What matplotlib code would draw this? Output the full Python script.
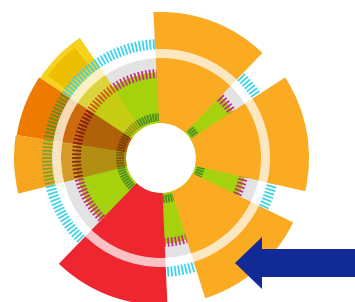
import numpy as np
import matplotlib
matplotlib.use('Agg')
import matplotlib.pyplot as plt
from matplotlib.patches import FancyArrow

# ─── Data (angles in degrees, radii in pixels) ────────────────────────────────
# solid wedges on the right / bottom
SOLID_START = [46, -13, -72.5, 226]
SOLID_END = [93, 33, -26, 272.5]
SOLID_R = [146, 148, 147, 147]
SOLID_COLOR = ['#FBAB22', '#FBAB22', '#FBAB22', '#EE2630']

# layered sectors on the left
LEFT_START = [124, 146.5, 171]
LEFT_END = [146.5, 171, 194]
LEFT_R = [145, 146, 147]
LEFT_OUTER = ['#F6D21E', '#EF7A00', '#F7A51F']
LEFT_BAND = ['#DDD33A', '#CC6C0C', '#D49B28']
LEFT_INNER = ['#C6CC14', '#B0620A', '#B28F12']

# darker patch inside the yellow sector
PATCH_START, PATCH_END = 128, 144
PATCH_R0, PATCH_R1 = 116, 140

# tick rings: (r0, r1, step in degrees)
CYAN_RING = (108, 119, 1.8)
MAGENTA_RING = (80, 89, 2.5)
GREEN_RING = (37, 45, 3.6)
CYAN_ON = ['#3FD3EA', '#5E8E22', '#7CA22E']
MAGENTA_ON = ['#D2561E', '#8C1A0A', '#8C2A10']
GREEN_ON = ['#8E9A10', '#7A3E06', '#7A5E08']

HOLE_R = 35
GREEN_R = 86
GREY_R = 100
RING_R = (100, 109)

W, H = 355, 302
CX, CY = 161, 158
RMAX = 150


def sector(ax, a0, a1, r0, r1, color, z, alpha=1.0):
    mid = np.deg2rad((a0 + a1) / 2)
    ax.bar(mid, r1 - r0, width=np.deg2rad(a1 - a0), bottom=r0,
           color=color, edgecolor='none', linewidth=0, zorder=z, alpha=alpha)


def tick_ring(ax, ring, base_color, on_colors, z):
    r0, r1, step = ring
    angles = np.arange(0, 360, step)
    cols = []
    for a in angles:
        c = base_color
        for s, e, oc in zip(LEFT_START, LEFT_END, on_colors):
            if s <= a < e:
                c = oc
        cols.append(c)
    ax.vlines(np.deg2rad(angles), r0, r1, colors=cols, linewidth=1.3, zorder=z)


fig = plt.figure(figsize=(W / 100, H / 100), dpi=100)
ax = fig.add_axes([(CX - RMAX) / W, (H - CY - RMAX) / H, 2 * RMAX / W, 2 * RMAX / H],
                  projection='polar')
ax.set_ylim(0, RMAX)

# base rings
sector(ax, 0, 360, HOLE_R, GREEN_R, '#A5D20C', 1)
sector(ax, 0, 360, GREEN_R, GREY_R, '#E3E3E3', 1)

# left layered sectors
for s, e, r, co, cb, ci in zip(LEFT_START, LEFT_END, LEFT_R, LEFT_OUTER, LEFT_BAND, LEFT_INNER):
    sector(ax, s, e, HOLE_R, GREEN_R, ci, 2)
    sector(ax, s, e, GREEN_R, GREY_R, cb, 2)
    sector(ax, s, e, GREY_R, r, co, 2)
sector(ax, PATCH_START, PATCH_END, PATCH_R0, PATCH_R1, '#EDBF00', 2)

# tick rings
tick_ring(ax, CYAN_RING, '#3FD3EA', CYAN_ON, 3)
tick_ring(ax, MAGENTA_RING, '#C4307C', MAGENTA_ON, 3)
tick_ring(ax, GREEN_RING, '#4E9020', GREEN_ON, 3)

# solid wedges
for s, e, r, c in zip(SOLID_START, SOLID_END, SOLID_R, SOLID_COLOR):
    sector(ax, s, e, HOLE_R, r, c, 4)

# translucent white ring
sector(ax, 0, 360, RING_R[0], RING_R[1], 'white', 5, alpha=0.72)

ax.set_axis_off()

# arrow overlay in pixel coordinates
ov = fig.add_axes([0, 0, 1, 1])
ov.set_xlim(0, W)
ov.set_ylim(H, 0)
ov.set_axis_off()
ov.add_patch(FancyArrow(W, 263, -120, 0, width=28, head_width=52, head_length=27,
                        length_includes_head=True, color='#112A96', linewidth=0))

fig.savefig('out.png', dpi=100, facecolor='white')
